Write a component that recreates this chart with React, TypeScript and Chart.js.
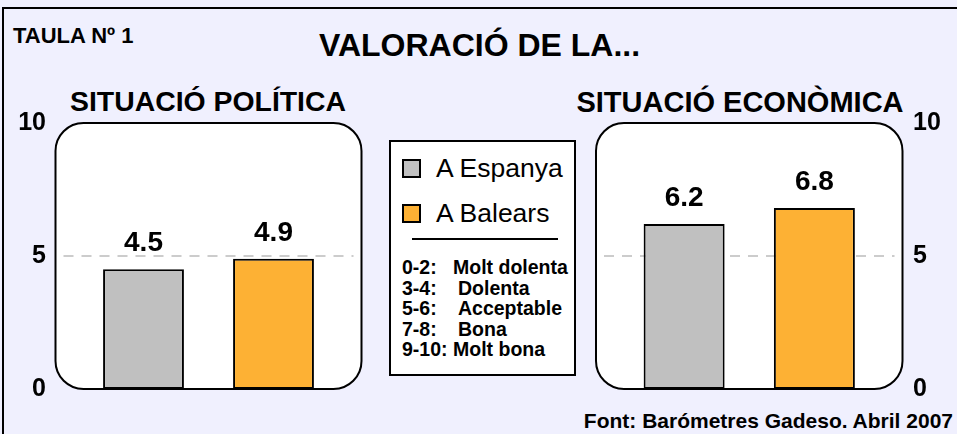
import React, { useEffect, useRef } from 'react';
import { Chart, registerables } from 'chart.js';

Chart.register(...registerables);

const categories = ['A Espanya', 'A Balears'];
const politicaValues = [4.5, 4.9];
const economicaValues = [6.2, 6.8];
const barColors = ['#c0c0c0', '#fdb134'];
const yMin = 0;
const yMax = 10;
const yStep = 5;
const refValue = 5;
const scaleKeys = ['0-2:', '3-4:', '5-6:', '7-8:', '9-10:'];
const scaleNames = ['Molt dolenta', 'Dolenta', 'Acceptable', 'Bona', 'Molt bona'];

const FONT = "'Liberation Sans', Arial, Helvetica, sans-serif";

const panelPlugin = {
  id: 'panel',
  beforeDatasetsDraw(chart: any) {
    const { ctx, chartArea } = chart;
    const inset = 23;
    const l = chartArea.left - inset;
    const r = chartArea.right + inset;
    const t = chartArea.top;
    const b = chartArea.bottom;
    ctx.save();
    ctx.beginPath();
    ctx.roundRect(l, t, r - l, b - t, 28);
    ctx.fillStyle = '#ffffff';
    ctx.fill();
    ctx.lineWidth = 2;
    ctx.strokeStyle = '#000000';
    ctx.stroke();
    const y = chart.scales.y.getPixelForValue(refValue);
    ctx.beginPath();
    ctx.setLineDash([10, 8]);
    ctx.strokeStyle = '#cccccc';
    ctx.lineWidth = 2;
    ctx.moveTo(l + 8, y);
    ctx.lineTo(r - 8, y);
    ctx.stroke();
    ctx.restore();
  },
  afterDatasetsDraw(chart: any) {
    const { ctx } = chart;
    const meta = chart.getDatasetMeta(0);
    const data = chart.data.datasets[0].data;
    ctx.save();
    ctx.font = `bold 28px ${FONT}`;
    ctx.fillStyle = '#000';
    ctx.textAlign = 'center';
    ctx.textBaseline = 'alphabetic';
    meta.data.forEach((bar: any, i: number) => {
      ctx.fillText(Number(data[i]).toFixed(1), bar.x, bar.y - 18);
    });
    ctx.restore();
  },
};

function BarPanel({ values, side, left, width }: { values: number[]; side: 'left' | 'right'; left: number; width: number }) {
  const ref = useRef<HTMLCanvasElement>(null);
  useEffect(() => {
    const axisWidth = side === 'left' ? 78.5 : 77.5;
    const chart = new Chart(ref.current!, {
      type: 'bar',
      data: {
        labels: categories,
        datasets: [
          {
            data: values,
            backgroundColor: barColors,
            borderColor: '#000',
            borderWidth: 2,
            borderSkipped: false,
            categoryPercentage: 1,
            barPercentage: 0.622,
          },
        ],
      },
      options: {
        responsive: false,
        animation: false,
        layout: {
          padding: side === 'left'
            ? { top: 23, bottom: 11, left: 0, right: 41.5 }
            : { top: 23, bottom: 11, left: 39, right: 0 },
        },
        plugins: { legend: { display: false }, tooltip: { enabled: false } },
        scales: {
          x: { display: false },
          y: {
            position: side,
            min: yMin,
            max: yMax,
            ticks: {
              stepSize: yStep,
              color: '#000',
              font: { family: FONT, size: 25, weight: 'bold' },
              padding: side === 'left' ? 32.5 : 33.5,
            },
            grid: { display: false, drawTicks: false },
            border: { display: false },
            afterFit: (s: any) => {
              s.width = axisWidth;
              s.paddingTop = 0;
              s.paddingBottom = 0;
            },
          },
        },
      },
      plugins: [panelPlugin],
    } as any);
    return () => chart.destroy();
  }, []);
  return (
    <canvas
      ref={ref}
      width={width}
      height={300}
      style={{ position: 'absolute', left, top: 100, width, height: 300 }}
    />
  );
}

const txt = (style: React.CSSProperties): React.CSSProperties => ({
  position: 'absolute',
  fontFamily: FONT,
  fontWeight: 'bold',
  color: '#000',
  whiteSpace: 'pre',
  lineHeight: 1,
  ...style,
});

export default function App() {
  return (
    <div
      style={{
        position: 'fixed',
        left: 0,
        top: 0,
        width: 957,
        height: 434,
        overflow: 'hidden',
        background: '#f0f0fe',
      }}
    >
      <div
        style={{
          position: 'absolute',
          left: 2,
          top: 7,
          width: 1000,
          height: 500,
          border: '2px solid #000',
        }}
      />
      <div style={txt({ left: 13, top: 25, fontSize: 22 })}>TAULA Nº 1</div>
      <div style={txt({ left: 0, width: 957, top: 29, fontSize: 32, textAlign: 'center', paddingLeft: 1 })}>
        VALORACIÓ DE LA...
      </div>
      <div style={txt({ left: 8, width: 400, top: 87, fontSize: 28.4, textAlign: 'center' })}>
        SITUACIÓ POLÍTICA
      </div>
      <div style={txt({ left: 540, width: 400, top: 88, fontSize: 29, textAlign: 'center' })}>
        SITUACIÓ ECONÒMICA
      </div>
      <BarPanel values={politicaValues} side="left" left={0} width={380} />
      <BarPanel values={economicaValues} side="right" left={580} width={377} />
      <div
        style={{
          position: 'absolute',
          left: 389,
          top: 140,
          width: 183,
          height: 232,
          background: '#fff',
          border: '2px solid #000',
        }}
      >
        {categories.map((c, i) => (
          <div key={c} style={{ position: 'absolute', left: 11, top: 14 + i * 45, height: 24, display: 'flex', alignItems: 'center' }}>
            <div
              style={{
                width: 15,
                height: 15,
                background: barColors[i],
                border: '2px solid #000',
              }}
            />
            <span style={{ marginLeft: 15, fontFamily: FONT, fontSize: 26.5, color: '#000', lineHeight: 1 }}>{c}</span>
          </div>
        ))}
        <div style={{ position: 'absolute', left: 21, top: 96, width: 146, height: 2, background: '#000' }} />
        {scaleKeys.map((k, i) => (
          <React.Fragment key={k}>
            <div style={txt({ left: 11, top: 116 + i * 20.5, fontSize: 19.5 })}>{k}</div>
            <div style={txt({ left: i === 0 || i === 4 ? 62 : 67, top: 116 + i * 20.5, fontSize: 19.5 })}>{scaleNames[i]}</div>
          </React.Fragment>
        ))}
      </div>
      <div style={txt({ right: 4, top: 410, fontSize: 21 })}>Font: Barómetres Gadeso. Abril 2007</div>
    </div>
  );
}
